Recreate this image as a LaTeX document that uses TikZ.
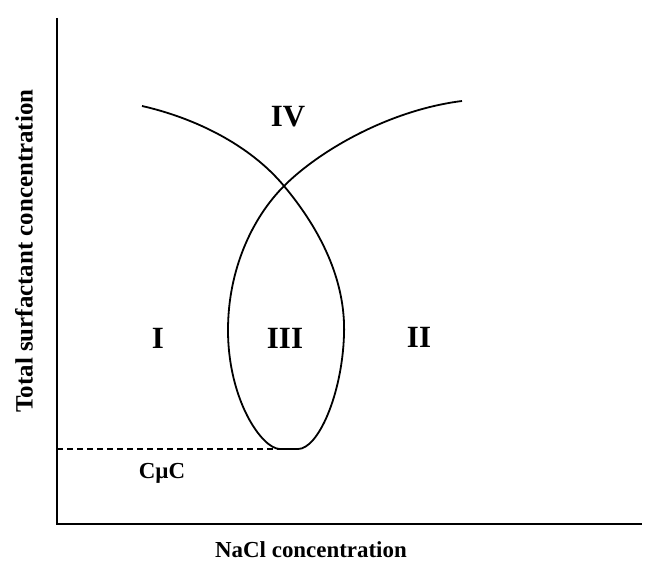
\documentclass[tikz,border=0pt]{standalone}
\usepackage{fontspec}
\setmainfont{Liberation Serif}
\begin{document}
\begin{tikzpicture}[
  x=1bp, y=-1bp,
  region/.style={font=\fontsize{31}{36}\selectfont\bfseries, inner sep=0pt},
  axislabel/.style={font=\fontsize{23}{28}\selectfont\bfseries, inner sep=0pt},
  axis/.style={line width=1.8bp, draw=black},
  curve/.style={line width=1.8bp, draw=black},
  cmcline/.style={line width=1.6bp, dash pattern=on 6bp off 4bp}
]
  \useasboundingbox (0,0) rectangle (646,562);

  % Ejes
  \coordinate (ytop) at (57,18);
  \coordinate (origin) at (57,524);
  \coordinate (xend) at (642,524);
  \draw[axis] (ytop) -- (origin) -- (xend);

  % Curvas de fase
  \coordinate (lstart) at (142,106);
  \coordinate (cross) at (284,186);
  \coordinate (rside) at (344,335);
  \coordinate (botr) at (298,449);
  \coordinate (botl) at (280,449);
  \coordinate (lside) at (228,330);
  \coordinate (rend) at (462,101);
  \draw[curve] (lstart) .. controls (195,118) and (250,145) .. (cross)
    .. controls (320,229) and (346,280) .. (rside)
    .. controls (342,395) and (318,449) .. (botr) -- (botl)
    .. controls (262,449) and (228,400) .. (lside)
    .. controls (228,270) and (252,218) .. (cross)
    .. controls (320,150) and (390,110) .. (rend);

  % CMC
  \coordinate (cmcstart) at (57,449);
  \draw[cmcline] (cmcstart) -- (botl);

  % Etiquetas
  \node[region] (r4) at (288,117) {IV};
  \node[region] (r1) at (158,338) {I};
  \node[region] (r3) at (285,338) {III};
  \node[region] (r2) at (419,337) {II};
  \node[axislabel] (cmc) at (162,473) {CµC};
  \node[axislabel, anchor=base west] (xlab) at (215,557) {NaCl concentration};
  \node[axislabel, rotate=90, font=\fontsize{25}{30}\selectfont\bfseries] (ylab) at (24,251) {Total surfactant concentration};
\end{tikzpicture}
\end{document}
